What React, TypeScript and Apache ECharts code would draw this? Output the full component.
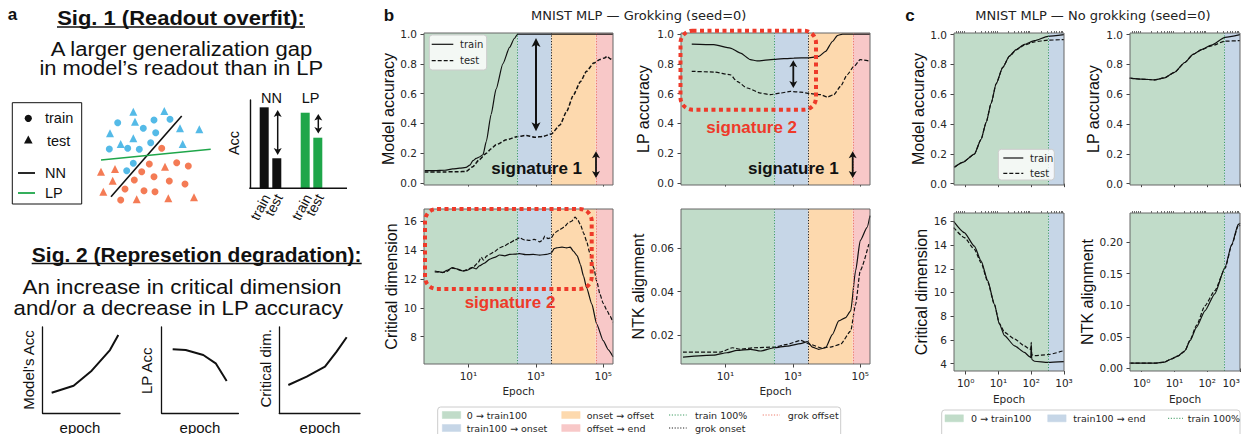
import React, { useEffect, useRef } from 'react';
import * as echarts from 'echarts';

/* ================= Panel b: MNIST MLP — Grokking (seed=0) ================= */
const bPhaseEpochs = [280, 2900, 60000]; // train 100%, grok onset, grok offset

const bModelAccTrainEpochs = [0.5, 1, 2, 3.4, 5.5, 8.5, 11, 13.5, 17, 21, 27, 34, 47, 66, 105, 166, 230, 290, 1000, 10000, 100000, 195000];
const bModelAccTrain = [0.083, 0.083, 0.086, 0.095, 0.1, 0.105, 0.12, 0.15, 0.165, 0.175, 0.19, 0.28, 0.46, 0.63, 0.8, 0.91, 0.97, 1.0, 1.0, 1.0, 1.0, 1.0];
const bModelAccTestEpochs = [0.5, 2, 5, 8.5, 13.5, 21, 34, 47, 66, 134, 295, 520, 930, 1650, 2900, 5200, 8200, 13000, 21000, 32000, 52000, 80000, 110000, 130000, 160000, 195000];
const bModelAccTest = [0.074, 0.075, 0.076, 0.078, 0.11, 0.157, 0.2, 0.23, 0.257, 0.29, 0.313, 0.32, 0.307, 0.313, 0.33, 0.39, 0.48, 0.59, 0.68, 0.75, 0.805, 0.83, 0.84, 0.85, 0.835, 0.82];

const bLPAccTrainEpochs = [1, 4.5, 14, 28, 55, 87, 275, 1070, 3000, 5900, 9400, 15000, 21000, 30000, 60000, 195000];
const bLPAccTrain = [0.933, 0.929, 0.906, 0.872, 0.828, 0.82, 0.83, 0.839, 0.84, 0.85, 0.884, 0.95, 0.99, 1.0, 1.0, 1.0];
const bLPAccTestEpochs = [1, 4.5, 14, 22, 44, 110, 216, 430, 850, 1700, 3400, 6700, 10500, 16500, 26000, 41000, 65000, 100000, 180000];
const bLPAccTest = [0.75, 0.745, 0.727, 0.683, 0.638, 0.604, 0.593, 0.604, 0.615, 0.61, 0.6, 0.593, 0.577, 0.593, 0.649, 0.727, 0.783, 0.828, 0.82];

const bCritTrainEpochs = [1, 1.3, 1.7, 2.3, 3.4, 4.5, 6.8, 9, 13.5, 17, 21, 30, 42, 60, 84, 120, 166, 240, 330, 500, 830, 1300, 2070, 2900, 3500, 4100, 6000, 8200, 10500, 13000, 17000, 21000, 26000, 32000, 46000, 64000, 100000, 140000, 195000];
const bCritTrain = [12.55, 12.5, 12.44, 12.6, 12.78, 12.7, 12.55, 12.6, 12.78, 12.7, 12.9, 13.1, 13.36, 13.5, 13.66, 13.6, 13.7, 13.72, 13.75, 13.68, 13.7, 13.65, 13.7, 13.8, 14.1, 14.16, 14.2, 14.16, 14.2, 13.93, 13.6, 13.0, 12.2, 11.4, 10.25, 8.87, 7.72, 7.1, 6.6];
const bCritTestEpochs = [1, 2, 3.4, 6.8, 13.5, 19, 24, 28, 35, 42, 60, 84, 120, 166, 240, 330, 470, 660, 900, 1300, 1600, 1850, 2300, 2900, 3600, 5200, 7000, 9200, 11500, 14700, 17500, 21000, 26000, 32000, 40000, 52000, 65000, 80000, 100000, 130000, 160000, 195000];
const bCritTest = [12.48, 12.45, 12.75, 12.55, 12.8, 13.1, 13.5, 13.3, 13.6, 13.7, 13.9, 14.16, 14.3, 14.5, 14.7, 14.85, 14.7, 14.67, 14.75, 14.57, 14.7, 14.97, 14.8, 14.85, 15.2, 15.43, 15.6, 15.9, 16.0, 16.28, 16.1, 15.77, 15.2, 14.62, 13.8, 12.78, 11.8, 10.94, 10.3, 9.8, 9.4, 8.99];

const bNTKTrainEpochs = [0.55, 4.5, 11, 22, 55, 110, 275, 680, 1700, 2700, 3800, 5900, 9400, 15000, 23000, 37000, 52000, 73000, 100000, 160000, 195000];
const bNTKTrain = [0.0098, 0.0107, 0.0118, 0.0129, 0.0134, 0.0126, 0.0141, 0.0149, 0.016, 0.0169, 0.0144, 0.0134, 0.0141, 0.0203, 0.0265, 0.028, 0.0311, 0.0497, 0.0636, 0.0697, 0.0751];
const bNTKTestEpochs = [0.55, 7, 16, 28, 70, 275, 680, 1700, 3300, 6700, 13000, 26000, 52000, 73000, 100000, 180000];
const bNTKTest = [0.0121, 0.0121, 0.0141, 0.0134, 0.0141, 0.0144, 0.0157, 0.0175, 0.0157, 0.0141, 0.0144, 0.0157, 0.0218, 0.0342, 0.0497, 0.062];

/* ================= Panel c: MNIST MLP — No grokking (seed=0) ================= */
const cPhaseEpochs = [330]; // train 100%

const cModelAccEpochs = [0.45, 0.81, 1.84, 2.95, 4.2, 6, 8.5, 13.5, 21.7, 34.7, 62, 126, 324, 1000];
const cModelAccTrain = [0.11, 0.143, 0.198, 0.297, 0.41, 0.54, 0.67, 0.78, 0.857, 0.9, 0.934, 0.96, 0.989, 1.0];
const cModelAccTest = [0.11, 0.143, 0.198, 0.297, 0.41, 0.54, 0.67, 0.78, 0.855, 0.898, 0.93, 0.952, 0.963, 0.967];

const cLPAccEpochs = [0.43, 1, 2.5, 5, 10, 20.7, 37, 67, 135, 350, 1000];
const cLPAccTrain = [0.708, 0.701, 0.697, 0.71, 0.747, 0.813, 0.868, 0.9, 0.93, 0.982, 1.0];
const cLPAccTest = [0.708, 0.701, 0.697, 0.71, 0.747, 0.813, 0.868, 0.898, 0.925, 0.956, 0.96];

const cCritEpochs = [0.43, 0.91, 1.84, 2.95, 4.7, 7.5, 10.7, 15.3, 31, 62, 89, 97, 100, 104, 126, 324, 1000];
const cCritTrain = [16.0, 15.05, 13.9, 12.66, 11.0, 9.02, 7.34, 6.36, 5.5, 4.95, 4.59, 4.5, 5.6, 4.35, 4.2, 4.11, 4.17];
const cCritTest = [15.47, 14.63, 13.64, 12.52, 10.9, 9.0, 7.4, 6.64, 6.08, 5.5, 5.23, 5.2, 5.8, 4.75, 4.67, 4.76, 5.1];

const cNTKEpochs = [0.43, 2.5, 5, 8, 13, 20.7, 30, 47, 85, 170, 350, 560, 890, 1000];
const cNTKTrain = [0.0084, 0.0084, 0.01, 0.015, 0.02, 0.028, 0.044, 0.065, 0.091, 0.118, 0.16, 0.196, 0.228, 0.225];
const cNTKTest = [0.0084, 0.0084, 0.01, 0.015, 0.02, 0.027, 0.045, 0.068, 0.099, 0.123, 0.158, 0.195, 0.226, 0.23];

/* ================= Panel a: schematic ================= */
const blueCircles = [[2.27, 8.23], [5.9, 8.5], [7.5, 8.57], [4.83, 7.67], [6.07, 7.23], [5.57, 6.23], [1.43, 5.6], [3.27, 5.67], [4.43, 5.57], [3.83, 4.17], [3.17, 3.43]];
const blueTriangles = [[3.83, 9.33], [6.93, 9.4], [4.0, 8.33], [8.5, 7.67], [10.43, 7.57], [1.5, 7.17], [3.83, 6.67], [8.77, 6.1], [2.57, 6.1]];
const redCircles = [[6.67, 5.67], [5.43, 4.1], [8.17, 4.23], [9.33, 3.9], [4.67, 3.33], [5.9, 2.83], [3.93, 2.5], [7.43, 2.4], [9.0, 2.1], [3.0, 1.6], [4.9, 1.43], [6.0, 1.33], [2.57, 0.5]];
const redTriangles = [[7.0, 3.83], [0.6, 3.33], [2.0, 3.6], [1.77, 2.43], [0.83, 1.33], [4.17, 0.57], [7.33, 0.67], [9.9, 0.77]];
const nnBoundary = [[1.6, 0.83], [8.67, 8.9]];
const lpBoundary = [[0.6, 4.5], [11.57, 5.57]];

const barGroups = ['NN', 'LP'];
const barTrainAcc = [0.917, 0.856];
const barTestAcc = [0.34, 0.573];

const sketchModelAcc = [[1.16, 2.39], [4.0, 3.2], [6.34, 4.94], [8.7, 7.33], [9.78, 9.07]];
const sketchLPAcc = [[1.43, 7.42], [3.13, 7.33], [5.42, 6.76], [7.04, 5.79], [8.47, 3.74]];
const sketchCritDim = [[1.12, 3.28], [3.4, 4.24], [5.66, 5.4], [7.1, 7.14], [8.35, 8.81]];

/* ================= tick labels ================= */
const bMajorEpochTicks = [10, 1000, 100000];
const cMajorEpochTicks = [1, 10, 100, 1000];
const cMinorEpochTicks = [0.5, 0.6, 0.7, 0.8, 0.9, 2, 3, 4, 5, 6, 7, 8, 9, 20, 30, 40, 50, 60, 70, 80, 90, 200, 300, 400, 500, 600, 700, 800, 900];
const accTicks = [0, 0.2, 0.4, 0.6, 0.8, 1.0];
const bCritTicks = [8, 10, 12, 14, 16];
const bNTKTicks = [0.02, 0.04, 0.06];
const cCritTicks = [4, 6, 8, 10, 12, 14, 16];
const cNTKTicks = [0, 0.05, 0.1, 0.15, 0.2];

/* ================= styles ================= */
const SANS = "'Liberation Sans', Arial, Helvetica, sans-serif";
const DJ = "'DejaVu Sans', sans-serif";
const LBL = '#262626';
const FRAME = '#666';
const BAND_B = ['#c1dcc9', '#c6d6e7', '#fdd9ae', '#f8c8c8'];
const BAND_C = ['#c1dcc9', '#c6d6e7'];
const PHASE_B = ['#3f9c62', '#222222', '#ee7a6a'];
const PHASE_C = ['#3f9c62'];
const RED = '#ee3a2a';
const BLUE_PT = '#29a9e1';
const RED_PT = '#f15a2b';
const GREEN = '#1fa64a';

const SUP: Record<string, string> = { '-': '⁻', '0': '⁰', '1': '¹', '2': '²', '3': '³', '4': '⁴', '5': '⁵', '6': '⁶', '7': '⁷', '8': '⁸', '9': '⁹' };
const supFmt = (v: number) => '10' + String(Math.round(Math.log10(v))).split('').map((ch) => SUP[ch]).join('');
const f1 = (v: number) => v.toFixed(1);
const f2 = (v: number) => v.toFixed(2);
const fi = (v: number) => String(Math.round(v));
const zip = (xs: number[], ys: number[]) => xs.map((x, i) => [x, ys[i]]);

function buildOption() {
  const grids: any[] = [];
  const xAxes: any[] = [];
  const yAxes: any[] = [];
  const series: any[] = [];
  const g: any[] = [];

  const AX_B = { min: 0.48, max: 195000, majors: bMajorEpochTicks, minors: null as any };
  const AX_C = { min: 0.44, max: 1001, majors: cMajorEpochTicks, minors: cMinorEpochTicks };

  const plots: any[] = [
    { box: [424, 33, 189, 152], x: AX_B, xLabels: false, y: { min: -0.013, max: 1.007, ticks: accTicks, fmt: f1 }, yName: 'Model accuracy', yGap: 28, phases: bPhaseEpochs, bands: BAND_B, pcol: PHASE_B, train: zip(bModelAccTrainEpochs, bModelAccTrain), test: zip(bModelAccTestEpochs, bModelAccTest), testW: 1.5 },
    { box: [681, 33, 189, 152], x: AX_B, xLabels: false, y: { min: -0.013, max: 1.007, ticks: accTicks, fmt: f1 }, yName: 'LP accuracy', yGap: 30, phases: bPhaseEpochs, bands: BAND_B, pcol: PHASE_B, train: zip(bLPAccTrainEpochs, bLPAccTrain), test: zip(bLPAccTestEpochs, bLPAccTest) },
    { box: [424, 209, 189, 155], x: AX_B, xLabels: true, xGap: 21, y: { min: 6.1, max: 16.85, ticks: bCritTicks, fmt: fi }, yName: 'Critical dimension', yGap: 25, phases: bPhaseEpochs, bands: BAND_B, pcol: PHASE_B, train: zip(bCritTrainEpochs, bCritTrain), test: zip(bCritTestEpochs, bCritTest) },
    { box: [681, 209, 189, 155], x: AX_B, xLabels: true, xGap: 21, y: { min: 0.0066, max: 0.0782, ticks: bNTKTicks, fmt: f2 }, yName: 'NTK alignment', yGap: 30, phases: bPhaseEpochs, bands: BAND_B, pcol: PHASE_B, train: zip(bNTKTrainEpochs, bNTKTrain), test: zip(bNTKTestEpochs, bNTKTest) },
    { box: [954, 33, 110, 152], x: AX_C, xLabels: false, y: { min: -0.009, max: 1.011, ticks: accTicks, fmt: f1 }, yName: 'Model accuracy', yGap: 28, phases: cPhaseEpochs, bands: BAND_C, pcol: PHASE_C, train: zip(cModelAccEpochs, cModelAccTrain), test: zip(cModelAccEpochs, cModelAccTest) },
    { box: [1130, 33, 110, 152], x: AX_C, xLabels: false, y: { min: -0.009, max: 1.011, ticks: accTicks, fmt: f1 }, yName: 'LP accuracy', yGap: 29, phases: cPhaseEpochs, bands: BAND_C, pcol: PHASE_C, train: zip(cLPAccEpochs, cLPAccTrain), test: zip(cLPAccEpochs, cLPAccTest) },
    { box: [954, 213, 110, 158], x: AX_C, xLabels: true, xGap: 22, y: { min: 3.38, max: 16.7, ticks: cCritTicks, fmt: fi }, yName: 'Critical dimension', yGap: 25, phases: cPhaseEpochs, bands: BAND_C, pcol: PHASE_C, train: zip(cCritEpochs, cCritTrain), test: zip(cCritEpochs, cCritTest) },
    { box: [1130, 213, 110, 158], x: AX_C, xLabels: true, xGap: 22, alignMax: true, y: { min: -0.004, max: 0.2457, ticks: cNTKTicks, fmt: f2 }, yName: 'NTK alignment', yGap: 35, phases: cPhaseEpochs, bands: BAND_C, pcol: PHASE_C, train: zip(cNTKEpochs, cNTKTrain), test: zip(cNTKEpochs, cNTKTest) },
  ];

  plots.forEach((p) => {
    const gi = grids.length;
    grids.push({ left: p.box[0], top: p.box[1], width: p.box[2], height: p.box[3], outerBoundsMode: 'none', containLabel: false });
    const xi = xAxes.length;
    xAxes.push({
      type: 'log', logBase: 10, gridIndex: gi, min: p.x.min, max: p.x.max,
      axisLine: { show: false },
      axisTick: { show: true, customValues: p.x.majors, length: 3.5, lineStyle: { color: '#444', width: 1 } },
      axisLabel: { show: p.xLabels, customValues: p.x.majors, formatter: supFmt, fontFamily: DJ, fontSize: 10.5, color: LBL, margin: 6, alignMaxLabel: p.alignMax ? 'right' : undefined },
      splitLine: { show: false }, minorTick: { show: false },
      name: p.xLabels ? 'Epoch' : '', nameLocation: 'middle', nameGap: p.xGap || 21,
      nameTextStyle: { fontFamily: DJ, fontSize: 10.5, color: LBL },
    });
    if (p.x.minors) {
      xAxes.push({
        type: 'log', logBase: 10, gridIndex: gi, min: p.x.min, max: p.x.max,
        axisLine: { show: false },
        axisTick: { show: true, customValues: p.x.minors, length: 2, lineStyle: { color: '#444', width: 0.8 } },
        axisLabel: { show: false }, splitLine: { show: false },
      });
    }
    const yi = yAxes.length;
    yAxes.push({
      type: 'value', gridIndex: gi, min: p.y.min, max: p.y.max,
      axisLine: { show: false },
      axisTick: { show: true, customValues: p.y.ticks, length: 3.5, lineStyle: { color: '#444', width: 1 } },
      axisLabel: { customValues: p.y.ticks, formatter: p.y.fmt, fontFamily: DJ, fontSize: 10.5, color: LBL, margin: 7 },
      splitLine: { show: false },
      name: p.yName, nameLocation: 'middle', nameGap: p.yGap,
      nameTextStyle: { fontFamily: SANS, fontSize: 16, color: '#111' },
    });
    const edges = [p.x.min, ...p.phases, p.x.max];
    series.push({
      type: 'line', xAxisIndex: xi, yAxisIndex: yi, data: [], silent: true, z: 1, symbol: 'none',
      markArea: {
        silent: true,
        data: p.bands.map((c: string, i: number) => [{ xAxis: edges[i], itemStyle: { color: c, opacity: 1 } }, { xAxis: edges[i + 1] }]),
      },
      markLine: {
        silent: true, symbol: ['none', 'none'], label: { show: false },
        data: p.phases.map((ph: number, i: number) => ({ xAxis: ph, lineStyle: { color: p.pcol[i], type: [1.2, 1.6], width: 1 } })),
      },
    });
    series.push({
      type: 'line', xAxisIndex: xi, yAxisIndex: yi, data: p.train, symbol: 'none', z: 4,
      smooth: 0.2, smoothMonotone: 'x', lineStyle: { color: '#111', width: 1.2 },
    });
    series.push({
      type: 'line', xAxisIndex: xi, yAxisIndex: yi, data: p.test, symbol: 'none', z: 3,
      smooth: 0.2, smoothMonotone: 'x', lineStyle: { color: '#111', width: p.testW || 1.2, type: [4, 2] },
    });
    g.push({ type: 'rect', z: 40, silent: true, shape: { x: p.box[0], y: p.box[1], width: p.box[2], height: p.box[3] }, style: { fill: 'none', stroke: FRAME, lineWidth: 1 } });
  });

  /* ---------- panel a: scatter schematic ---------- */
  const sgi = grids.length;
  grids.push({ left: 95, top: 105, width: 120, height: 100, outerBoundsMode: 'none' });
  const sxi = xAxes.length;
  xAxes.push({ type: 'value', gridIndex: sgi, min: 0, max: 12, show: false });
  const syi = yAxes.length;
  yAxes.push({ type: 'value', gridIndex: sgi, min: 0, max: 10, show: false });
  const sc = (data: number[][], symbol: string, color: string, size: number) => ({
    type: 'scatter', xAxisIndex: sxi, yAxisIndex: syi, data, symbol, symbolSize: size, itemStyle: { color }, z: 3, silent: true,
  });
  series.push(sc(blueCircles, 'circle', BLUE_PT, 7));
  series.push(sc(blueTriangles, 'triangle', BLUE_PT, 8));
  series.push(sc(redCircles, 'circle', RED_PT, 7));
  series.push(sc(redTriangles, 'triangle', RED_PT, 8));
  series.push({ type: 'line', xAxisIndex: sxi, yAxisIndex: syi, data: nnBoundary, symbol: 'none', lineStyle: { color: '#111', width: 1.6 }, z: 4 });
  series.push({ type: 'line', xAxisIndex: sxi, yAxisIndex: syi, data: lpBoundary, symbol: 'none', lineStyle: { color: GREEN, width: 1.6 }, z: 4 });

  /* ---------- panel a: bar chart ---------- */
  const bgi = grids.length;
  grids.push({ left: 250, top: 100, width: 82, height: 88.3, outerBoundsMode: 'none' });
  const bxi = xAxes.length;
  xAxes.push({ type: 'category', gridIndex: bgi, data: barGroups, axisLine: { show: false }, axisTick: { show: false }, axisLabel: { show: false } });
  const byi = yAxes.length;
  yAxes.push({ type: 'value', gridIndex: bgi, min: 0, max: 1, axisLine: { show: true, lineStyle: { color: '#111', width: 1.4 } }, axisTick: { show: false }, axisLabel: { show: false }, splitLine: { show: false } });
  const barColors = ['#111', GREEN];
  series.push({ type: 'bar', xAxisIndex: bxi, yAxisIndex: byi, barWidth: 9, barGap: '40%', data: barTrainAcc.map((v, i) => ({ value: v, itemStyle: { color: barColors[i] } })), silent: true });
  series.push({ type: 'bar', xAxisIndex: bxi, yAxisIndex: byi, barWidth: 9, barGap: '40%', data: barTestAcc.map((v, i) => ({ value: v, itemStyle: { color: barColors[i] } })), silent: true });

  /* ---------- panel a: sketch plots ---------- */
  const sketches = [
    { box: [42.7, 327, 77.3, 86.3], data: sketchModelAcc },
    { box: [161.7, 327, 76.7, 86.3], data: sketchLPAcc },
    { box: [279.3, 327, 80.7, 86.3], data: sketchCritDim },
  ];
  sketches.forEach((s) => {
    const gi = grids.length;
    grids.push({ left: s.box[0], top: s.box[1], width: s.box[2], height: s.box[3], outerBoundsMode: 'none' });
    const xi = xAxes.length;
    xAxes.push({ type: 'value', gridIndex: gi, min: 0, max: 10, axisLine: { show: true, onZero: false, lineStyle: { color: '#111', width: 1.3 } }, axisTick: { show: false }, axisLabel: { show: false }, splitLine: { show: false } });
    const yi = yAxes.length;
    yAxes.push({ type: 'value', gridIndex: gi, min: 0, max: 10, axisLine: { show: true, onZero: false, lineStyle: { color: '#111', width: 1.3 } }, axisTick: { show: false }, axisLabel: { show: false }, splitLine: { show: false } });
    series.push({ type: 'line', xAxisIndex: xi, yAxisIndex: yi, data: s.data, symbol: 'none', lineStyle: { color: '#111', width: 2 }, silent: true });
  });

  /* ---------- text helpers ---------- */
  const ctx = document.createElement('canvas').getContext('2d') as CanvasRenderingContext2D;
  const measure = (text: string, size: number, bold: boolean, family: string) => {
    ctx.font = `${bold ? 'bold ' : ''}${size}px ${family}`;
    return ctx.measureText(text).width;
  };
  const T = (x: number, y: number, text: string, o: any = {}) => {
    const size = o.size || 14;
    const family = o.font || SANS;
    let sx = 1;
    if (o.width) sx = o.width / measure(text, size, !!o.bold, family);
    g.push({
      type: 'text', x, y, rotation: o.rot || 0, scaleX: sx, z: 60, silent: true,
      style: { text, fill: o.color || '#111', fontFamily: family, fontSize: size, fontWeight: o.bold ? 'bold' : 'normal', align: o.align || 'center', verticalAlign: o.va || 'middle' },
    });
  };
  const L = (x1: number, y1: number, x2: number, y2: number, stroke: string, lw: number, dash?: number[]) =>
    g.push({ type: 'line', z: 60, silent: true, shape: { x1, y1, x2, y2 }, style: { stroke, lineWidth: lw, lineDash: dash } });
  const R = (x: number, y: number, w: number, h: number, style: any, r = 0) =>
    g.push({ type: 'rect', z: 55, silent: true, shape: { x, y, width: w, height: h, r }, style });
  const dblArrow = (x: number, y1: number, y2: number, hw = 4.5, hh = 8, lw = 2) => {
    L(x, y1 + hh * 0.7, x, y2 - hh * 0.7, '#111', lw);
    g.push({ type: 'polygon', z: 61, silent: true, shape: { points: [[x, y1], [x - hw, y1 + hh], [x, y1 + hh * 0.75], [x + hw, y1 + hh]] }, style: { fill: '#111' } });
    g.push({ type: 'polygon', z: 61, silent: true, shape: { points: [[x, y2], [x - hw, y2 - hh], [x, y2 - hh * 0.75], [x + hw, y2 - hh]] }, style: { fill: '#111' } });
  };

  /* ---------- panel a texts ---------- */
  T(12.5, 14, 'a', { bold: true, size: 17 });
  T(181, 18.3, 'Sig. 1 (Readout overfit):', { bold: true, size: 20, width: 248 });
  L(57, 27, 305, 27, '#111', 1.4);
  T(181.5, 49.3, 'A larger generalization gap', { size: 19.5, width: 263 });
  T(181.3, 68.3, 'in model’s readout than in LP', { size: 19.5, width: 284 });

  R(12.3, 102.7, 69.4, 101.3, { fill: '#fff', stroke: '#111', lineWidth: 1 });
  g.push({ type: 'circle', z: 61, silent: true, shape: { cx: 28.3, cy: 118.3, r: 3.6 }, style: { fill: '#111' } });
  T(45, 118, 'train', { align: 'left', size: 14.5 });
  g.push({ type: 'polygon', z: 61, silent: true, shape: { points: [[28.3, 135.5], [24, 143.5], [32.6, 143.5]] }, style: { fill: '#111' } });
  T(47, 140.5, 'test', { align: 'left', size: 14.5 });
  L(18, 173, 35, 173, '#111', 1.8);
  T(45, 173, 'NN', { align: 'left', size: 14.5 });
  L(18, 193, 35, 193, GREEN, 1.8);
  T(45, 193, 'LP', { align: 'left', size: 14.5 });

  L(249.3, 188.3, 347, 188.3, '#111', 1.4);
  T(271.5, 98.3, 'NN', { size: 14.5 });
  T(310.5, 98.3, 'LP', { size: 14.5 });
  T(234, 143, 'Acc', { size: 14.5, rot: Math.PI / 2 });
  dblArrow(277.7, 110, 155, 4, 7, 1.5);
  dblArrow(318.3, 114, 133.5, 4, 6.5, 1.5);
  const barLblX = [266.5, 279, 308, 320];
  const barLbl = ['train', 'test', 'train', 'test'];
  barLblX.forEach((x, i) => T(x, 195, barLbl[i], { size: 14, align: 'right', rot: (62 * Math.PI) / 180 }));

  T(196.7, 255, 'Sig. 2 (Represetion degradation):', { bold: true, size: 20, width: 330 });
  L(31.7, 263.5, 361.7, 263.5, '#111', 1.4);
  T(182, 286.7, 'An increase in critical dimension', { size: 19.5, width: 319 });
  T(178.3, 308.3, 'and/or a decrease in LP accuracy', { size: 19.5, width: 330 });

  T(28.3, 370, 'Model\'s Acc', { size: 15, rot: Math.PI / 2 });
  T(146.7, 370.8, 'LP Acc', { size: 15, rot: Math.PI / 2 });
  T(265, 368.3, 'Critical dim.', { size: 15, rot: Math.PI / 2 });
  T(80, 427, 'epoch', { size: 15 });
  T(200, 427, 'epoch', { size: 15 });
  T(320, 427, 'epoch', { size: 15 });

  /* ---------- panel b / c titles and annotations ---------- */
  T(389, 15, 'b', { bold: true, size: 17 });
  T(638.7, 15, 'MNIST MLP — Grokking (seed=0)', { font: DJ, size: 13, color: '#222' });
  T(910, 15, 'c', { bold: true, size: 17 });
  T(1093, 15, 'MNIST MLP — No grokking (seed=0)', { font: DJ, size: 13, color: '#222' });

  R(429.3, 35, 57.4, 35, { fill: 'rgba(255,255,255,0.8)', stroke: '#cccccc', lineWidth: 1 }, 3);
  L(431.7, 44.3, 453.3, 44.3, '#111', 1.2);
  T(460, 44.3, 'train', { font: DJ, size: 10, align: 'left', color: LBL });
  L(431.7, 60.7, 453.3, 60.7, '#111', 1.2, [4, 2]);
  T(460, 60.7, 'test', { font: DJ, size: 10, align: 'left', color: LBL });

  R(998.3, 149.3, 56, 30.7, { fill: 'rgba(255,255,255,0.8)', stroke: '#cccccc', lineWidth: 1 }, 3);
  L(1003.3, 158, 1023.3, 158, '#111', 1.2);
  T(1030, 158, 'train', { font: DJ, size: 10, align: 'left', color: LBL });
  L(1003.3, 173.3, 1023.3, 173.3, '#111', 1.2, [4, 2]);
  T(1030, 173.3, 'test', { font: DJ, size: 10, align: 'left', color: LBL });

  dblArrow(536, 38, 131.3, 4.5, 9, 2);
  T(536.7, 168, 'signature 1', { bold: true, size: 17 });
  dblArrow(596, 151.3, 178, 4, 7, 1.8);
  dblArrow(793.3, 60.3, 88, 4, 7, 1.8);
  T(793.3, 168, 'signature 1', { bold: true, size: 17 });
  dblArrow(852.7, 151.3, 178, 4, 7, 1.8);
  R(680.5, 30.7, 135.5, 79, { fill: 'none', stroke: RED, lineWidth: 4, lineDash: [4, 3.5] }, 12);
  T(751.7, 127, 'signature 2', { bold: true, size: 17, color: RED });
  R(425, 209, 166.7, 80, { fill: 'none', stroke: RED, lineWidth: 4, lineDash: [4, 3.5] }, 12);
  T(510, 302, 'signature 2', { bold: true, size: 17, color: RED });

  /* ---------- bottom legends ---------- */
  R(437.7, 407, 403, 40, { fill: '#fff', stroke: '#cccccc', lineWidth: 1 }, 3);
  const patch = (x: number, y: number, c: string) => R(x, y - 3.5, 18.4, 7, { fill: c, stroke: c, lineWidth: 0.5 });
  const lg = (x: number, y: number, t: string) => T(x, y, t, { font: DJ, size: 9.5, align: 'left', color: LBL });
  patch(442.3, 415, BAND_B[0]); lg(466.7, 415, '0 → train100');
  patch(442.3, 428, BAND_B[1]); lg(466.7, 428, 'train100 → onset');
  patch(561.7, 415, BAND_B[2]); lg(586.7, 415, 'onset → offset');
  patch(561.7, 428, BAND_B[3]); lg(586.7, 428, 'offset → end');
  L(669, 415, 686.7, 415, PHASE_B[0], 1, [1.2, 1.6]); lg(695, 415, 'train 100%');
  L(669, 428, 686.7, 428, PHASE_B[1], 1, [1.2, 1.6]); lg(695, 428, 'grok onset');
  L(762.7, 415, 780, 415, PHASE_B[2], 1, [1.2, 1.6]); lg(787.7, 415, 'grok offset');

  R(941.7, 410, 298.3, 40, { fill: '#fff', stroke: '#cccccc', lineWidth: 1 }, 3);
  patch(945, 418.3, BAND_C[0]); lg(971, 418.3, '0 → train100');
  patch(1047.7, 418.3, BAND_C[1]); lg(1073.3, 418.3, 'train100 → end');
  L(1168, 418.3, 1183, 418.3, PHASE_C[0], 1, [1.2, 1.6]); lg(1187.7, 418.3, 'train 100%');

  return {
    animation: false,
    backgroundColor: '#ffffff',
    grid: grids,
    xAxis: xAxes,
    yAxis: yAxes,
    series,
    graphic: { elements: g },
  };
}

export default function App() {
  const ref = useRef<HTMLDivElement>(null);
  useEffect(() => {
    document.body.style.margin = '0';
    const chart = echarts.init(ref.current as HTMLDivElement, null, { renderer: 'svg', width: 1244, height: 434 });
    chart.setOption(buildOption() as any);
    return () => chart.dispose();
  }, []);
  return <div ref={ref} style={{ position: 'fixed', left: 0, top: 0, width: 1244, height: 434, background: '#fff' }} />;
}
